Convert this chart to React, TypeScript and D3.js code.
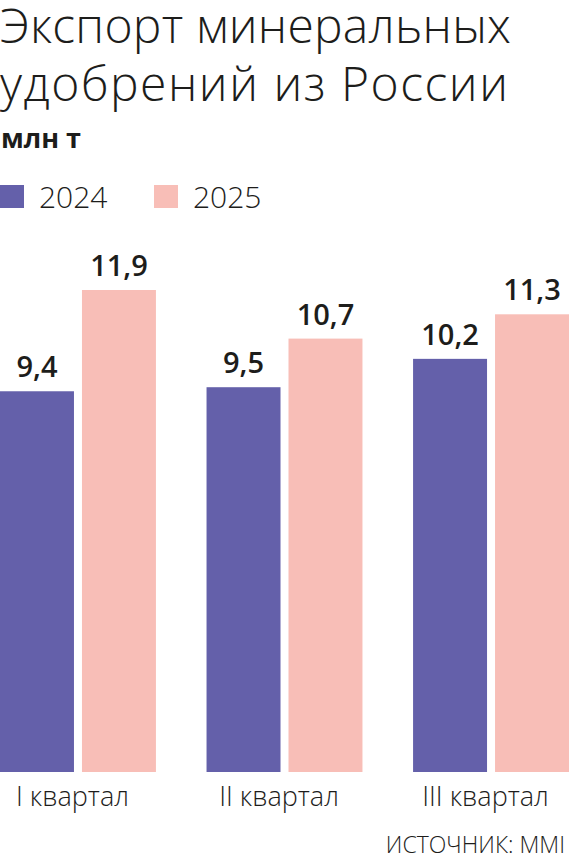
import React from "react";
import * as d3 from "d3";

const quarters = ["I квартал", "II квартал", "III квартал"];
const years = ["2024", "2025"];
const values2024 = [9.4, 9.5, 10.2];
const values2025 = [11.9, 10.7, 11.3];
const colors = ["#6460aa", "#f8beb7"];

const width = 569;
const height = 860;
const font = "'Open Sans', 'Noto Sans', sans-serif";
const ink = "#1d1d1b";

const ruFormat = d3.formatLocale({
  decimal: ",",
  thousands: " ",
  grouping: [3],
  currency: ["", " ₽"],
}).format(".1f");

const App: React.FC = () => {
  const rows = quarters.map((q, i) => ({
    quarter: q,
    values: [values2024[i], values2025[i]],
  }));

  const x0 = d3
    .scaleBand<string>()
    .domain(quarters)
    .range([0, width])
    .paddingInner(0.245)
    .paddingOuter(0);

  const x1 = d3
    .scaleBand<string>()
    .domain(years)
    .range([0, x0.bandwidth()])
    .paddingInner(0.0976);

  const y = d3.scaleLinear().domain([0, 11.9]).range([772, 290]);

  return (
    <svg
      width={width}
      height={height}
      style={{ position: "absolute", left: 0, top: 0, background: "#fff" }}
    >
      {/* title */}
      <text
        x={0}
        y={43}
        fontFamily={font}
        fontWeight={300}
        fontSize={48}
        fill={ink}
        textLength={511}
        lengthAdjust="spacing"
      >
        Экспорт минеральных
      </text>
      <text
        x={0}
        y={101}
        fontFamily={font}
        fontWeight={300}
        fontSize={48}
        fill={ink}
        textLength={508}
        lengthAdjust="spacing"
      >
        удобрений из России
      </text>
      <text x={1} y={148} fontFamily={font} fontWeight={700} fontSize={27} fill={ink}>
        млн т
      </text>

      {/* legend */}
      {years.map((yr, i) => (
        <g key={yr} transform={`translate(${i * 154},0)`}>
          <rect x={0} y={185} width={24} height={23} fill={colors[i]} />
          <text x={39} y={208} fontFamily={font} fontWeight={300} fontSize={30} fill={ink}>
            {yr}
          </text>
        </g>
      ))}

      {/* bars */}
      {rows.map((r) => (
        <g key={r.quarter} transform={`translate(${x0(r.quarter)},0)`}>
          {r.values.map((v, j) => {
            const bx = x1(years[j]) || 0;
            return (
              <g key={years[j]}>
                <rect
                  x={bx}
                  y={y(v)}
                  width={x1.bandwidth()}
                  height={y(0) - y(v)}
                  fill={colors[j]}
                />
                <text
                  x={bx + x1.bandwidth() / 2}
                  y={y(v) - 14}
                  textAnchor="middle"
                  fontFamily={font}
                  fontWeight={600}
                  fontSize={29}
                  fill={ink}
                >
                  {ruFormat(v)}
                </text>
              </g>
            );
          })}
          <text
            x={x0.bandwidth() / 2 - 5.5}
            y={806}
            textAnchor="middle"
            fontFamily={font}
            fontWeight={300}
            fontSize={27}
            fill={ink}
          >
            {r.quarter}
          </text>
        </g>
      ))}

      {/* source */}
      <text
        x={565}
        y={853}
        textAnchor="end"
        fontFamily={font}
        fontWeight={300}
        fontSize={23}
        fill={ink}
      >
        ИСТОЧНИК: MMI
      </text>
    </svg>
  );
};

export default App;
